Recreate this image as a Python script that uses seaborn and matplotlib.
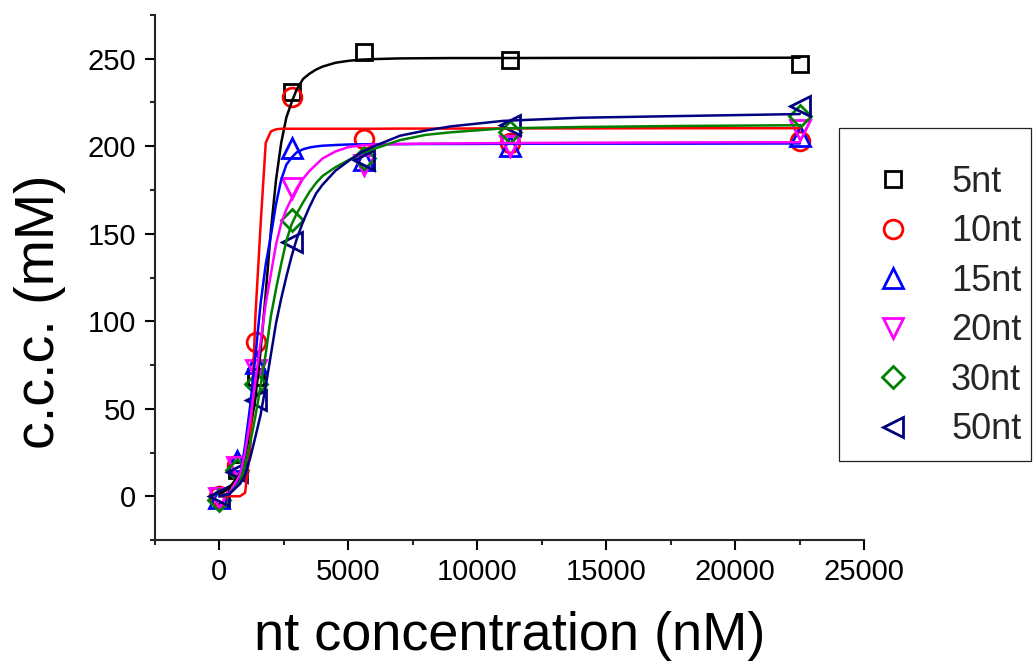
import numpy as np
import pandas as pd
import matplotlib
matplotlib.use("Agg")
import matplotlib.pyplot as plt
import seaborn as sns
from matplotlib.lines import Line2D
from matplotlib.patches import Rectangle
from matplotlib.ticker import MultipleLocator

# ---------------- data ----------------
series = ["5nt", "10nt", "15nt", "20nt", "30nt", "50nt"]
colors = ["#000000", "#FF0000", "#0000FF", "#FF00FF", "#008000", "#000080"]
markers = ["s", "o", "^", "v", "D", "<"]
marker_sizes = [11.5, 13.5, 14, 14, 11, 14]

conc = [0, 703, 1406, 2812, 5625, 11250, 22500]
ccc_5nt = [0, 15, 68, 231, 254, 249, 247]
ccc_10nt = [0, 18, 88, 228, 204, 202, 203]
ccc_15nt = [-1, 20, 76, 199, 192, 200, 206]
ccc_20nt = [-1, 17, 72, 176, 189, 200, 209]
ccc_30nt = [-2, 15, 64, 158, 193, 208, 217]
ccc_50nt = [0, 14, 55, 145, 192, 212, 223]

# fitted curves
fit_x = [0, 400, 800, 1000, 1200, 1400, 1600, 1800, 2000, 2200, 2400, 2600, 2800,
         3000, 3250, 3500, 3750, 4000, 4500, 5000, 5500, 6000, 7000, 8000, 9000,
         11000, 14000, 18000, 22500]
fit_5nt = [1, 5, 13, 22, 38, 56, 83, 116, 152, 181, 202, 216.5, 225, 232.5, 238.5,
           241.5, 243.8, 245.5, 247.7, 248.8, 249.5, 249.8, 250.2, 250.3, 250.4,
           250.4, 250.5, 250.5, 250.6]
fit_10nt = [0, 0, 0, 2, 28, 103, 155, 202, 208.5, 209.7, 210, 210, 210, 210, 210,
            210, 210, 210, 210, 210, 210, 210, 210.1, 210.1, 210.1, 210.2, 210.2,
            210.3, 210.3]
fit_15nt = [0, 1, 11, 29, 52, 80, 110, 132.5, 149, 167, 181, 189.5, 193.5, 196.5,
            198.3, 199.3, 199.9, 200.3, 200.7, 201, 201.1, 201.2, 201.2, 201.3,
            201.3, 201.4, 201.5, 201.5, 201.6]
fit_20nt = [0, 2, 12, 25, 44, 66, 88, 110, 127, 144, 156, 164, 170, 176, 181.5, 186,
            189.5, 193, 197, 199.5, 200.5, 201, 201.3, 201.5, 201.6, 201.8, 202,
            202.2, 202.3]
fit_30nt = [0, 1.5, 8, 18, 30.6, 45.8, 63, 81.4, 103, 118.5, 132.8, 146, 155.3,
            161.5, 168, 174, 179, 183, 188, 192, 196, 198.5, 203.5, 206.5, 208,
            210.2, 211, 211.6, 212]
fit_50nt = [0, 1.5, 7, 12, 22, 34, 46.5, 63, 81, 99, 113, 125.5, 137, 147, 157,
            165.5, 173, 178, 186, 191.5, 196.5, 200, 206, 209, 211.4, 214.5, 216.3,
            217.3, 218.4]

x_ticks = [0, 5000, 10000, 15000, 20000, 25000]
y_ticks = [0, 50, 100, 150, 200, 250]
x_label = "nt concentration (nM)"
y_label = "c.c.c. (mM)"

points = [ccc_5nt, ccc_10nt, ccc_15nt, ccc_20nt, ccc_30nt, ccc_50nt]
fits = [fit_5nt, fit_10nt, fit_15nt, fit_20nt, fit_30nt, fit_50nt]

fit_df = pd.concat(
    [pd.DataFrame({"conc": fit_x, "ccc": f, "series": s}) for s, f in zip(series, fits)],
    ignore_index=True)

# ---------------- style ----------------
sns.set_theme(style="ticks")
plt.rcParams["font.family"] = ["Liberation Sans", "DejaVu Sans"]
plt.rcParams["axes.linewidth"] = 1.5

fig = plt.figure(figsize=(10.33, 6.67), dpi=100)
ax = fig.add_axes([154.8 / 1033, 1 - 540 / 667, (864.3 - 154.8) / 1033, (540 - 15) / 667])

# markers
for s, vals, c, m, ms in zip(series, points, colors, markers, marker_sizes):
    ax.plot(conc, vals, linestyle="none", marker=m, ms=ms, mfc="none", mec=c,
            mew=2.0, zorder=2)

# fitted curves
sns.lineplot(data=fit_df, x="conc", y="ccc", hue="series", hue_order=series,
             palette=colors, estimator=None, sort=False, linewidth=1.8,
             legend=False, ax=ax, zorder=3)

ax.set_xlim(-2500, 25000)
ax.set_ylim(-25, 275)
ax.set_xticks(x_ticks)
ax.set_yticks(y_ticks)
ax.xaxis.set_minor_locator(MultipleLocator(2500))
ax.yaxis.set_minor_locator(MultipleLocator(25))
ax.tick_params(which="major", direction="out", length=7.2, width=1.5,
               labelsize=21, colors="black")
ax.tick_params(which="minor", direction="out", length=3.6, width=1.5)
ax.tick_params(axis="x", which="major", pad=6)
ax.tick_params(axis="y", which="major", pad=6)
sns.despine(ax=ax, top=True, right=True)

ax.set_xlabel(x_label, fontsize=39, color="black")
ax.set_ylabel(y_label, fontsize=40, color="black")
ax.xaxis.set_label_coords(0.5, -0.136)
ax.yaxis.set_label_coords(-0.125, 0.434)

# legend
handles = [Line2D([], [], linestyle="none", marker=m, ms=ms, mfc="none", mec=c, mew=2.0)
           for c, m, ms in zip(colors, markers, marker_sizes)]
leg = fig.legend(handles, series, loc="upper left",
                 bbox_to_anchor=(874.6 / 1033, 1 - 165 / 667),
                 frameon=False, fontsize=26, handlelength=1.0, handletextpad=1.12,
                 labelspacing=0.40, borderpad=0, borderaxespad=0)
fig.patches.append(Rectangle((839 / 1033, 1 - 461 / 667), (1031 - 839) / 1033,
                             (461 - 128) / 667, transform=fig.transFigure,
                             fill=False, edgecolor="#222222", linewidth=0.9))

fig.savefig("out.png", dpi=100)
